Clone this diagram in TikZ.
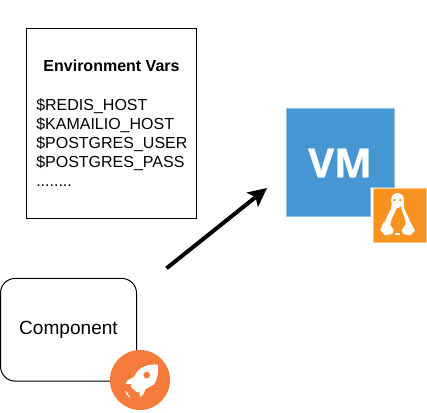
\documentclass[tikz,border=0pt]{standalone}
\usepackage{fontspec}
\setmainfont{Liberation Sans}
\newfontfamily\vmfont[BoldFont={Open Sans Bold}, FakeBold=0.6]{Open Sans}
\usetikzlibrary{arrows.meta}

\definecolor{vmblue}{HTML}{4596D3}
\definecolor{vmedge}{HTML}{8FC0E6}
\definecolor{tuxorange}{HTML}{F7931E}
\definecolor{tuxedge}{HTML}{FBC98F}
\definecolor{rocketorange}{HTML}{F47B3B}

\tikzset{
  zoomed/.style={x=0.25pt, y=-0.25pt},
  box/.style={draw=black, line width=0.75pt, inner sep=0pt, outer sep=0pt},
}

\begin{document}
\begin{tikzpicture}[x=0.75pt, y=-0.75pt]
  \useasboundingbox (0, 0) rectangle (427, 412);

  \coordinate (S) at (166.5, 268.3);
  \coordinate (E) at (267, 188);

  % environment box
  \node[box, minimum width=127.5pt, minimum height=142.5pt] (env) at (111.5, 123) {};
  \node (envtitle) at (111.5, 66) {\fontsize{12}{14}\selectfont\bfseries Environment Vars};
  \node[anchor=north west, inner sep=0pt, align=left, font=\fontsize{12}{14.25}\selectfont] (envvars) at (36, 98)
    {\$REDIS\_HOST\\ \$KAMAILIO\_HOST\\ \$POSTGRES\_USER\\ \$POSTGRES\_PASS\\ ........};

  % component
  \node[box, rounded corners=11pt, minimum width=102pt, minimum height=77pt,
        font=\fontsize{14.3}{17}\selectfont] (comp) at (68.5, 329.75) {Component};

  % rocket badge
  \fill[rocketorange] (140, 380) circle (30);
  \begin{scope}[shift={(105, 345)}, zoomed]
    \fill[white] (158, 59) .. controls (135, 56) and (110, 64) .. (98, 78)
      -- (86, 96) -- (68, 106) -- (62, 116) -- (80, 118) -- (78, 126) -- (96, 142)
      -- (103, 139) -- (105, 156) -- (114, 150) -- (122, 132) -- (147, 118)
      .. controls (158, 104) and (161, 80) .. (158, 59) -- cycle;
    \fill[rocketorange] (125, 90) circle (10);
    \draw[white, line width=0.5pt] (60, 139) -- (70, 147) (64, 146) -- (73, 154) (70, 153) -- (75, 157);
  \end{scope}

  % vm
  \draw[vmedge, fill=vmblue, line width=0.75pt]
    (286.5, 108.5) -- (394.5, 108.5) -- (394.5, 187.5) -- (370.5, 187.5)
    -- (370.5, 216.5) -- (286.5, 216.5) -- cycle;
  \node[white, font=\vmfont\bfseries\fontsize{30}{34}\selectfont] (vm) at (340, 163) {VM};

  % linux badge
  \node[draw=tuxedge, fill=tuxorange, line width=0.75pt, inner sep=0pt, minimum size=40pt] (tux) at (400, 215.5) {};
  \begin{scope}[shift={(365, 180)}, zoomed]
    \fill[white] (97, 39) .. controls (84, 39) and (78, 50) .. (79, 62) .. controls (80, 70) and (82, 76) .. (78, 86)
      .. controls (70, 102) and (62, 115) .. (58, 132) -- (137, 132)
      .. controls (133, 115) and (124, 100) .. (118, 86) .. controls (114, 76) and (117, 70) .. (117, 58)
      .. controls (117, 48) and (108, 39) .. (97, 39) -- cycle;
    \fill[tuxorange] (88, 60) circle (4) (106, 60) circle (4);
    \fill[tuxorange] (96, 84) .. controls (100, 86) and (104, 84) .. (107, 78)
      .. controls (112, 98) and (120, 112) .. (122, 135) -- (76, 135)
      .. controls (78, 114) and (90, 100) .. (96, 84) -- cycle;
    % feet
    \fill[white] (56, 126) -- (74, 132) -- (86, 150) -- (82, 162) -- (60, 166) -- (46, 150) -- cycle;
    \fill[white] (136, 126) -- (122, 132) -- (110, 150) -- (114, 162) -- (136, 166) -- (150, 152) -- cycle;
    \fill[white] (90, 158) -- (106, 158) -- (106, 165) -- (90, 165) -- cycle;
  \end{scope}

  \draw[line width=3pt, -{Stealth[length=14pt, width=13.5pt, inset=3pt]}] (S) -- (E);
\end{tikzpicture}
\end{document}
